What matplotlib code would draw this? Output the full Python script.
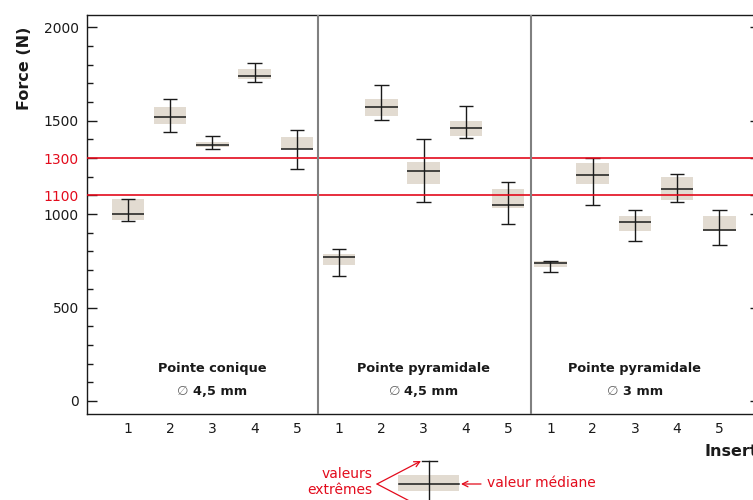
import matplotlib
matplotlib.use("Agg")
import matplotlib.pyplot as plt
from matplotlib.offsetbox import TextArea, HPacker, AnnotationBbox

plt.rcParams['font.family'] = ['DejaVu Sans']

# ---------------- data ----------------
positions = list(range(1, 16))
tick_labels = ["1", "2", "3", "4", "5"] * 3
whisker_hi = [1083, 1616, 1418, 1807, 1449, 812, 1693, 1404, 1579, 1174, 751, 1302, 1024, 1213, 1024]
box_hi     = [1081, 1572, 1386, 1777, 1413, 787, 1616, 1279, 1499, 1135, 749, 1274, 990, 1199, 990]
medians    = [999, 1520, 1370, 1741, 1349, 769, 1572, 1233, 1459, 1051, 737, 1208, 956, 1133, 917]
box_lo     = [969, 1484, 1359, 1725, 1347, 730, 1525, 1163, 1420, 1035, 719, 1163, 911, 1077, 911]
whisker_lo = [962, 1440, 1349, 1709, 1242, 669, 1504, 1065, 1409, 947, 689, 1051, 855, 1065, 835]
group_names = ["Pointe conique", "Pointe pyramidale", "Pointe pyramidale"]
group_diams = ["4,5 mm", "4,5 mm", "3 mm"]
group_centers = [3, 8, 13]
separators = [5.5, 10.55]
ref_lines = [1300, 1100]
major_ticks = [0, 500, 1000, 1100, 1300, 1500, 2000]

# ---------------- style ----------------
BOX = '#e2dbd1'
INK = '#1a1a1a'
RED = '#e30b1c'
GREY = '#808080'
box_w = 0.77
cap_w = 0.34

fig = plt.figure(figsize=(7.53, 5.0), dpi=100)
ax = fig.add_axes([87.3 / 753, 1 - 414 / 500, (760 - 87.3) / 753, (414 - 15) / 500])
ax.set_xlim(0.04, 15.96)
ax.set_ylim(-70, 2066)

# boxes
ax.bar(positions, [h - l for h, l in zip(box_hi, box_lo)], bottom=box_lo,
       width=box_w, color=BOX, edgecolor='none', zorder=2)
# medians
ax.hlines(medians, [p - box_w / 2 for p in positions], [p + box_w / 2 for p in positions],
          colors=INK, lw=1.1, zorder=3)
# whiskers
ax.vlines(positions, whisker_lo, whisker_hi, colors=INK, lw=1.0, zorder=3)
ax.hlines(whisker_hi, [p - cap_w / 2 for p in positions], [p + cap_w / 2 for p in positions],
          colors=INK, lw=1.0, zorder=3)
ax.hlines(whisker_lo, [p - cap_w / 2 for p in positions], [p + cap_w / 2 for p in positions],
          colors=INK, lw=1.0, zorder=3)

# reference lines
for r in ref_lines:
    ax.axhline(r, color=RED, lw=1.2, zorder=4)
# separators
for s in separators:
    ax.axvline(s, color=GREY, lw=1.5, zorder=4)

# axes / ticks
ax.set_xticks(positions)
ax.set_xticklabels(tick_labels)
ax.tick_params(axis='x', length=0, pad=6, labelsize=10, colors=INK)
ax.set_yticks(major_ticks)
ax.set_yticklabels([str(t) for t in major_ticks])
ax.set_yticks(list(range(0, 2001, 100)), minor=True)
ax.tick_params(axis='y', which='major', direction='in', length=7, width=1.0,
               labelsize=10, pad=6, colors=INK, right=True)
ax.tick_params(axis='y', which='minor', direction='in', length=4, width=1.0,
               colors=INK, right=True)
for lab, t in zip(ax.get_yticklabels(), major_ticks):
    lab.set_color(RED if t in ref_lines else INK)
for sp in ax.spines.values():
    sp.set_color(INK)
    sp.set_linewidth(1.0)

# group labels
for name, diam, c in zip(group_names, group_diams, group_centers):
    ax.text(c, 171, name, ha='center', va='center', fontsize=9.3,
            fontweight='bold', color=INK)
    pack = HPacker(children=[TextArea("\u2205", textprops=dict(color='#666666', fontsize=9.5)),
                             TextArea(diam, textprops=dict(color=INK, fontsize=9.3, fontweight='bold'))],
                   sep=3, pad=0, align='baseline')
    ab = AnnotationBbox(pack, (c, 53), xycoords='data', frameon=False,
                        box_alignment=(0.5, 0.5), pad=0)
    ax.add_artist(ab)

# axis titles
fig.text(25 / 753, 1 - 68 / 500, "Force (N)", rotation=90, ha='center', va='center',
         fontsize=11.5, fontweight='bold', color=INK)
fig.text(705 / 753, 1 - 451 / 500, "Inserts", ha='left', va='center',
         fontsize=11.5, fontweight='bold', color=INK)

# ---------------- key (explanatory sketch below chart) ----------------
lax = fig.add_axes([0, 0, 1, 1])
lax.set_xlim(0, 753)
lax.set_ylim(500, 0)
lax.axis('off')
lax.patch.set_alpha(0)
lax.add_patch(plt.Rectangle((398.3, 475), 60.7, 15.7, color=BOX, lw=0))
lax.plot([399, 459], [484, 484], color=INK, lw=1.1)
lax.plot([429, 429], [460.7, 512], color=INK, lw=1.0, clip_on=False)
lax.plot([421.7, 436.7], [460.7, 460.7], color=INK, lw=1.0)
arrow = dict(arrowstyle='->', color=RED, lw=0.9, shrinkA=0, shrinkB=0)
lax.annotate('', xy=(421, 461), xytext=(377, 484), arrowprops=arrow, annotation_clip=False)
lax.annotate('', xy=(421, 507), xytext=(377, 484), arrowprops=arrow, annotation_clip=False)
lax.annotate('', xy=(461, 484), xytext=(481, 484), arrowprops=arrow, annotation_clip=False)
lax.text(372, 482, "valeurs\nextrêmes", ha='right', va='center', color=RED,
         fontsize=10, linespacing=1.15)
lax.text(487, 483, "valeur médiane", ha='left', va='center', color=RED, fontsize=10)

fig.savefig("out.png", dpi=100)
